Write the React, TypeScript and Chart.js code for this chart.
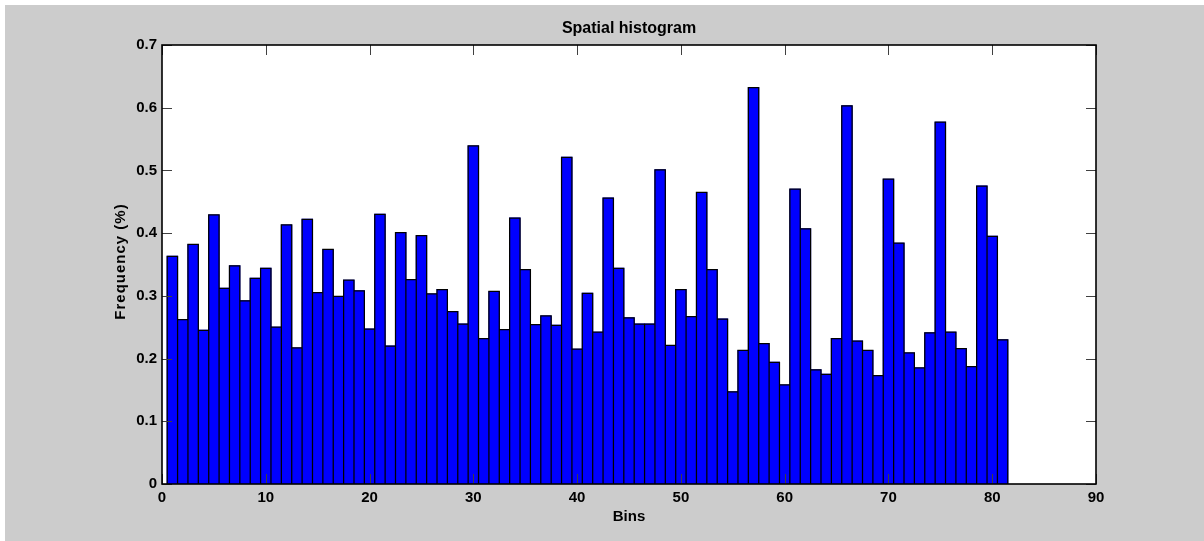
import { useEffect, useRef } from "react";
import { Chart, registerables } from "chart.js";

Chart.register(...registerables);

// Relative frequency of each spatial bin (bins 1..81)
const binValues: number[] = [
  0.363, 0.262, 0.382, 0.245, 0.429, 0.312, 0.348, 0.292, 0.328, 0.344,
  0.25, 0.413, 0.217, 0.422, 0.305, 0.374, 0.299, 0.325, 0.308, 0.247,
  0.43, 0.22, 0.401, 0.326, 0.396, 0.303, 0.31, 0.275, 0.255, 0.539,
  0.232, 0.307, 0.246, 0.424, 0.342, 0.254, 0.268, 0.253, 0.521, 0.215,
  0.304, 0.242, 0.456, 0.344, 0.265, 0.255, 0.255, 0.501, 0.221, 0.31,
  0.267, 0.465, 0.342, 0.263, 0.147, 0.213, 0.632, 0.224, 0.194, 0.158,
  0.47, 0.407, 0.182, 0.175, 0.232, 0.603, 0.228, 0.213, 0.173, 0.486,
  0.384, 0.209, 0.185, 0.241, 0.577, 0.242, 0.216, 0.187, 0.475, 0.395,
  0.23,
];

const xTickValues: number[] = [0, 10, 20, 30, 40, 50, 60, 70, 80, 90];
const yTickValues: number[] = [0, 0.1, 0.2, 0.3, 0.4, 0.5, 0.6, 0.7];

const titleText = "Spatial histogram";
const xAxisLabel = "Bins";
const yAxisLabel = "Frequency (%)";

const FONT_FAMILY = '"Liberation Sans", Arial, Helvetica, sans-serif';
const TICK_LEN = 10;

// Black outline around every bar, following the bar element's own geometry
const barOutlinePlugin = {
  id: "barOutline",
  afterDatasetsDraw(chart: any) {
    const { ctx } = chart;
    const meta = chart.getDatasetMeta(0);
    ctx.save();
    ctx.strokeStyle = "#000000";
    ctx.lineWidth = 1.25;
    ctx.lineJoin = "miter";
    ctx.beginPath();
    for (const el of meta.data) {
      const { x, y, base, width } = el.getProps(["x", "y", "base", "width"], true);
      const l = x - width / 2;
      const r = x + width / 2;
      ctx.moveTo(l, base);
      ctx.lineTo(l, y);
      ctx.lineTo(r, y);
      ctx.lineTo(r, base);
    }
    ctx.stroke();
    ctx.restore();
  },
};

// White axes box, inward ticks on all four sides, title and axis labels
const framePlugin = {
  id: "matlabFrame",
  beforeDraw(chart: any) {
    const { ctx, chartArea: a } = chart;
    ctx.save();
    ctx.fillStyle = "#ffffff";
    ctx.fillRect(a.left, a.top, a.right - a.left, a.bottom - a.top);
    ctx.restore();
  },
  afterDraw(chart: any) {
    const { ctx, chartArea: a, scales } = chart;
    const xs = scales.x;
    const ys = scales.y;
    ctx.save();
    ctx.strokeStyle = "#404040";
    ctx.lineWidth = 1;
    ctx.beginPath();
    for (const v of xTickValues) {
      const px = Math.round(xs.getPixelForValue(v)) + 0.5;
      ctx.moveTo(px, a.bottom);
      ctx.lineTo(px, a.bottom - TICK_LEN);
      ctx.moveTo(px, a.top);
      ctx.lineTo(px, a.top + TICK_LEN);
    }
    for (const v of yTickValues) {
      const py = Math.round(ys.getPixelForValue(v)) + 0.5;
      ctx.moveTo(a.left, py);
      ctx.lineTo(a.left + TICK_LEN, py);
      ctx.moveTo(a.right, py);
      ctx.lineTo(a.right - TICK_LEN, py);
    }
    ctx.stroke();

    ctx.strokeStyle = "#000000";
    ctx.lineWidth = 1.6;
    ctx.strokeRect(a.left, a.top, a.right - a.left, a.bottom - a.top);

    const midX = (a.left + a.right) / 2;
    const midY = (a.top + a.bottom) / 2;
    ctx.fillStyle = "#000000";
    ctx.textAlign = "center";
    ctx.textBaseline = "middle";
    ctx.font = `bold 16px ${FONT_FAMILY}`;
    ctx.fillText(titleText, midX, a.top - 16);
    ctx.font = `bold 15px ${FONT_FAMILY}`;
    ctx.fillText(xAxisLabel, midX, a.bottom + 33);
    ctx.translate(a.left - 41, midY - 3);
    ctx.rotate(-Math.PI / 2);
    (ctx as any).letterSpacing = "1px";
    ctx.fillText(yAxisLabel, 0, 0);
    ctx.restore();
  },
};

export default function App() {
  const canvasRef = useRef<HTMLCanvasElement | null>(null);

  useEffect(() => {
    document.body.style.margin = "0";
    const canvas = canvasRef.current;
    if (!canvas) return;

    const points = binValues.map((v, i) => ({ x: i + 1, y: v }));
    const tickFont = { family: FONT_FAMILY, size: 15, weight: "bold" as const };

    const chart = new Chart(canvas, {
      type: "bar",
      data: {
        datasets: [
          {
            data: points as any,
            backgroundColor: "#0000ff",
            borderWidth: 0,
            inflateAmount: 0.5,
            barPercentage: 1,
            categoryPercentage: 1,
          },
        ],
      },
      options: {
        responsive: false,
        maintainAspectRatio: false,
        animation: false,
        events: [],
        layout: { padding: { top: 40, right: 108, left: 0, bottom: 0 } },
        plugins: {
          legend: { display: false },
          tooltip: { enabled: false },
          title: { display: false },
        },
        scales: {
          x: {
            type: "linear",
            min: 0,
            max: 90,
            offset: false,
            grid: { display: false, drawTicks: false },
            border: { display: false },
            afterBuildTicks: (s: any) => {
              s.ticks = xTickValues.map((v) => ({ value: v }));
            },
            afterFit: (s: any) => {
              s.height = 57;
            },
            ticks: {
              color: "#000000",
              font: tickFont,
              padding: 5,
              maxRotation: 0,
              autoSkip: false,
              callback: (v: any) => String(v),
            },
          },
          y: {
            type: "linear",
            min: 0,
            max: 0.7,
            grid: { display: false, drawTicks: false },
            border: { display: false },
            afterBuildTicks: (s: any) => {
              s.ticks = yTickValues.map((v) => ({ value: v }));
            },
            afterFit: (s: any) => {
              s.width = 157;
            },
            ticks: {
              color: "#000000",
              font: tickFont,
              padding: 5,
              autoSkip: false,
              callback: (v: any) => String(Math.round(Number(v) * 10) / 10),
            },
          },
        },
      },
      plugins: [framePlugin, barOutlinePlugin],
    });

    return () => chart.destroy();
  }, []);

  return (
    <div
      style={{
        position: "fixed",
        left: 5,
        top: 5,
        width: 1199,
        height: 536,
        background: "#cccccc",
      }}
    >
      <canvas
        ref={canvasRef}
        width={1199}
        height={536}
        style={{ display: "block", width: 1199, height: 536 }}
      />
    </div>
  );
}
